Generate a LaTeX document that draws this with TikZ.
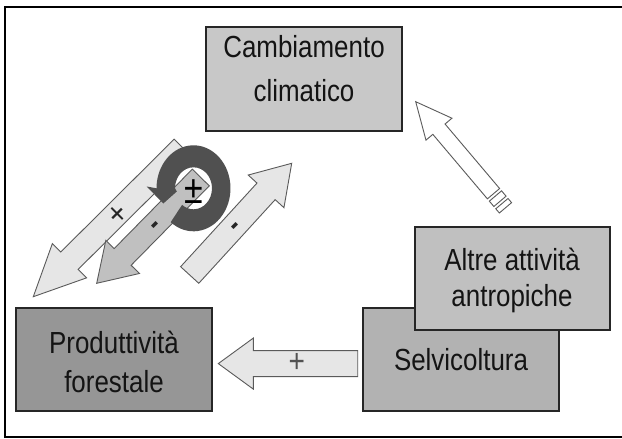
\documentclass[tikz,border=0pt]{standalone}
\usepackage{fontspec}
\setmainfont{Liberation Sans}
\newfontfamily\nf[FakeStretch=0.85]{Liberation Sans}
\usetikzlibrary{calc}
\definecolor{ccfill}{HTML}{C8C8C8}
\definecolor{altfill}{HTML}{C0C0C0}
\definecolor{selfill}{HTML}{B2B2B2}
\definecolor{prodfill}{HTML}{969696}
\definecolor{arlight}{HTML}{E6E6E6}
\definecolor{armid}{HTML}{C0C0C0}
\definecolor{ringc}{HTML}{505050}
\definecolor{edgec}{HTML}{5A5A5A}
\newcommand\blkarrow[6]{%
  \coordinate (ba-n) at ($(#3)!#6!(#2)$);
  \path[#1] ($(#2)!#4!90:(#3)$) -- ($(ba-n)!#4!90:(#3)$) -- ($(ba-n)!#5!90:(#3)$) -- (#3)
     -- ($(ba-n)!#5!-90:(#3)$) -- ($(ba-n)!#4!-90:(#3)$) -- ($(#2)!#4!-90:(#3)$) -- cycle;
}
\tikzset{
  boxst/.style={draw=black!85, line width=1.2pt, inner sep=0, rectangle},
  lbl/.style={font=\nf\fontsize{30.5}{30.5}\selectfont, text=black!92, anchor=base, inner sep=0},
  arrst/.style={draw=edgec, line width=0.9pt, line join=miter},
  signst/.style={inner sep=0, text=black!85},
}
\begin{document}
\begin{tikzpicture}[x=1pt,y=-1pt]
\useasboundingbox (0,0) rectangle (622,439);
\fill[white] (0,0) rectangle (622,439);
% frame
\draw[line width=2.4pt] (5,7) rectangle (640,437);

% boxes
\node[boxst, fill=ccfill, minimum width=196pt, minimum height=104pt] (cc) at (304,79) {};
\node[boxst, fill=selfill, minimum width=196pt, minimum height=103pt] (selv) at (461,359.5) {};
\node[boxst, fill=altfill, minimum width=195pt, minimum height=103pt] (altre) at (512.5,278.5) {};
\node[boxst, fill=prodfill, minimum width=196pt, minimum height=103pt] (prod) at (114,359.5) {};

\node[lbl] (t1) at (304,57) {Cambiamento};
\node[lbl] (t2) at (304,101) {climatico};
\node[lbl] (t3) at (512,270) {Altre attività};
\node[lbl] (t4) at (512,306) {antropiche};
\node[lbl] (t5) at (461,370) {Selvicoltura};
\node[lbl] (t6) at (114,353) {Produttività};
\node[lbl] (t7) at (114,392) {forestale};

% arrow coordinates
\coordinate (hT) at (357.7,363.6);
\coordinate (hP) at (218.3,363.6);
\coordinate (a3T) at (189.7,275);
\coordinate (a3P) at (291.7,163.3);
\coordinate (a4T) at (182.8,147.9);
\coordinate (a4P) at (33.3,296.7);
\coordinate (a5T) at (200.8,177.5);
\coordinate (a5P) at (96.7,283.3);
\coordinate (oP) at (415.7,101.7);
\coordinate (oE) at (509,212);
\coordinate (oT) at ($(oP)!120.5pt!(oE)$);
\coordinate (rc) at (193.5,188.3);

% horizontal arrow
\blkarrow{arrst, fill=arlight}{hT}{hP}{13pt}{25.5pt}{35pt}
\node[signst, font=\nf\fontsize{33}{33}\selectfont, text=black!68] (hs) at (296.7,362.7) {+};

% hollow striped arrow
\blkarrow{arrst, fill=white}{oT}{oP}{8pt}{17pt}{36pt}
\path[arrst, fill=white] ($($(oP)!123.5pt!(oE)$)!8pt!90:(oE)$) -- ($($(oP)!123.5pt!(oE)$)!8pt!-90:(oE)$)
   -- ($($(oP)!130.5pt!(oE)$)!8pt!-90:(oE)$) -- ($($(oP)!130.5pt!(oE)$)!8pt!90:(oE)$) -- cycle;
\path[arrst, fill=white] ($($(oP)!133.5pt!(oE)$)!8pt!90:(oE)$) -- ($($(oP)!133.5pt!(oE)$)!8pt!-90:(oE)$)
   -- ($($(oP)!139pt!(oE)$)!8pt!-90:(oE)$) -- ($($(oP)!139pt!(oE)$)!8pt!90:(oE)$) -- cycle;

% arrow 3 (up right, -)
\blkarrow{arrst, fill=arlight}{a3T}{a3P}{12.3pt}{24.2pt}{38pt}
\node[signst, rotate=45, font=\nf\bfseries\fontsize{30}{30}\selectfont] (s3) at (236.7,228.3) {-};

% arrow 4 (big, +)
\blkarrow{arrst, fill=arlight}{a4T}{a4P}{12.3pt}{24.2pt}{51pt}
\node[signst, rotate=45, font=\nf\fontsize{33}{33}\selectfont] (s4) at (118.3,215) {+};

% arrow 5 (mid gray, -)
\blkarrow{arrst, fill=armid}{a5T}{a5P}{11.9pt}{23.6pt}{37pt}
\node[signst, rotate=45, font=\nf\bfseries\fontsize{30}{30}\selectfont] (s5) at (156.7,226.7) {-};

% circular arrow
\fill[ringc] ($(rc)+(128:37 and 43)$) arc[start angle=128, end angle=-180, x radius=37, y radius=43]
  -- (146.7,186.5) -- (163.3,203.5) -- (176.8,191.5)
  -- ($(rc)+(-180:18.5 and 21)$) arc[start angle=-180, end angle=128, x radius=18.5, y radius=21] -- cycle;
\node[signst, font=\nf\fontsize{40}{40}\selectfont, text=black] (pm) at (194,191.7) {±};
\end{tikzpicture}
\end{document}
